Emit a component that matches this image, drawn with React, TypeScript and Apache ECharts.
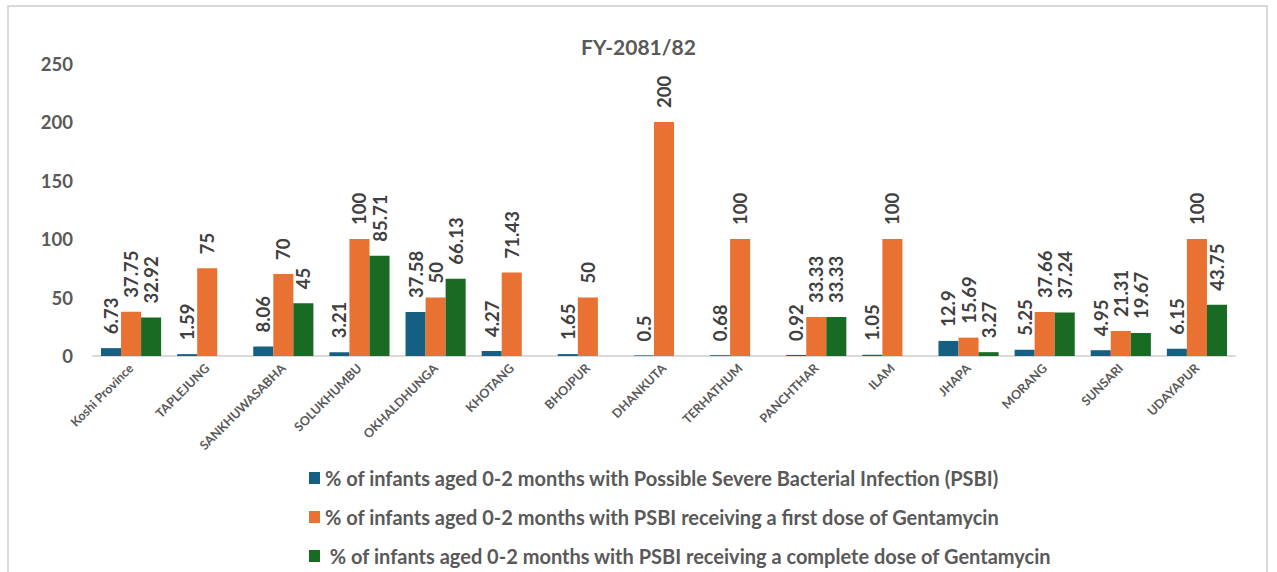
import React, { useEffect, useRef } from "react";
import * as echarts from "echarts";

const categories = [
  "Koshi Province", "TAPLEJUNG", "SANKHUWASABHA", "SOLUKHUMBU", "OKHALDHUNGA",
  "KHOTANG", "BHOJPUR", "DHANKUTA", "TERHATHUM", "PANCHTHAR", "ILAM", "JHAPA",
  "MORANG", "SUNSARI", "UDAYAPUR",
];
const psbi = [6.73, 1.59, 8.06, 3.21, 37.58, 4.27, 1.65, 0.5, 0.68, 0.92, 1.05, 12.9, 5.25, 4.95, 6.15];
const firstDose = [37.75, 75, 70, 100, 50, 71.43, 50, 200, 100, 33.33, 100, 15.69, 37.66, 21.31, 100];
const completeDose = [32.92, null, 45, 85.71, 66.13, null, null, null, null, 33.33, null, 3.27, 37.24, 19.67, 43.75];

const seriesNames = [
  "% of infants aged 0-2 months with Possible Severe Bacterial Infection (PSBI)",
  "% of infants aged 0-2 months with PSBI receiving a first dose of Gentamycin",
  " % of infants aged 0-2 months with PSBI receiving a complete dose of Gentamycin",
];
const colors = ["#156082", "#E97132", "#196B24"];
const yTicks = { min: 0, max: 250, interval: 50 };

const FONT = "Lato, 'Open Sans', sans-serif";

export default function App() {
  const ref = useRef<HTMLDivElement>(null);
  useEffect(() => {
    if (!ref.current) return;
    const chart = echarts.init(ref.current, undefined, { renderer: "svg" });
    const label = {
      show: true,
      position: "top",
      rotate: 90,
      align: "left",
      verticalAlign: "middle",
      distance: 14,
      color: "#404040",
      fontSize: 18.5,
      fontWeight: "bold",
      fontFamily: FONT,
    };
    const datasets = [psbi, firstDose, completeDose];
    chart.setOption({
      animation: false,
      textStyle: { fontFamily: FONT },
      title: {
        text: "FY-2081/82",
        left: "center",
        top: 31,
        textStyle: { fontSize: 21, fontWeight: "bold", color: "#595959", fontFamily: FONT },
      },
      graphic: [
        {
          type: "rect",
          shape: { x: 8, y: 6, width: 1259, height: 620 },
          style: { fill: "none", stroke: "#d9d9d9", lineWidth: 2 },
          silent: true,
        },
      ],
      legend: {
        orient: "vertical",
        left: 309,
        top: 466,
        padding: 0,
        itemGap: 15,
        itemWidth: 11,
        itemHeight: 12,
        icon: "rect",
        textStyle: { fontSize: 20, fontWeight: "bold", color: "#595959", fontFamily: FONT, lineHeight: 24 },
        data: seriesNames,
      },
      grid: { left: 93, right: 42, top: 63.5, bottom: 216, containLabel: false },
      xAxis: {
        type: "category",
        data: categories,
        axisTick: { show: false },
        axisLine: { lineStyle: { color: "#d9d9d9", width: 2 } },
        axisLabel: {
          rotate: 45,
          interval: 0,
          margin: 10,
          fontSize: 12.5,
          fontWeight: "bold",
          color: "#595959",
          fontFamily: FONT,
        },
      },
      yAxis: {
        type: "value",
        min: yTicks.min,
        max: yTicks.max,
        interval: yTicks.interval,
        splitLine: { show: false },
        axisLine: { show: false },
        axisTick: { show: false },
        axisLabel: { fontSize: 18.5, fontWeight: "bold", color: "#595959", margin: 20, fontFamily: FONT },
      },
      series: datasets.map((d, i) => ({
        name: seriesNames[i],
        type: "bar",
        data: d,
        barGap: "0%",
        barCategoryGap: "21%",
        itemStyle: { color: colors[i] },
        label,
      })),
    });
    return () => chart.dispose();
  }, []);
  return (
    <div
      ref={ref}
      style={{ position: "absolute", left: 0, top: 0, width: 1277, height: 572, background: "#fff" }}
    />
  );
}
